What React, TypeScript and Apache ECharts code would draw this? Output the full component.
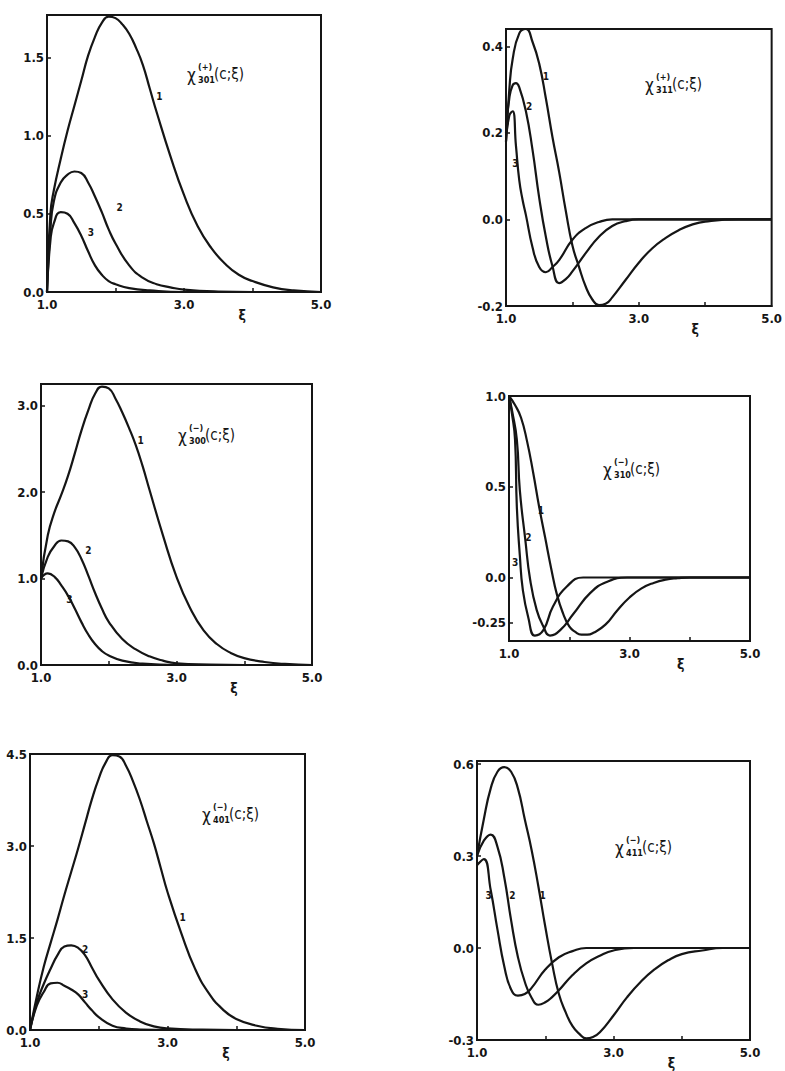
import React, { useEffect, useRef } from "react";
import * as echarts from "echarts";

// ---------- data ----------
const xTickValues = [2, 3, 4];
const xLabelValues = [1, 3, 3.85, 5];
const xLabelTexts = ["1.0", "3.0", "ξ", "5.0"];

// Panel 1: χ(+)301
const p1c1 = [[1.0,0],[1.05,0.5],[1.1,0.65],[1.2,0.85],[1.3,1.03],[1.4,1.19],[1.5,1.35],[1.6,1.51],[1.7,1.63],[1.8,1.72],[1.9,1.76],[2.0,1.75],[2.1,1.71],[2.2,1.65],[2.3,1.56],[2.4,1.45],[2.5,1.3],[2.6,1.15],[2.8,0.87],[3.0,0.62],[3.2,0.42],[3.4,0.28],[3.6,0.18],[3.8,0.11],[4.0,0.07],[4.3,0.03],[4.6,0.01],[5.0,0]];
const p1c2 = [[1.0,0],[1.05,0.4],[1.1,0.58],[1.2,0.7],[1.3,0.75],[1.4,0.77],[1.5,0.76],[1.6,0.7],[1.7,0.61],[1.8,0.51],[1.9,0.4],[2.0,0.31],[2.2,0.17],[2.4,0.09],[2.6,0.05],[2.8,0.03],[3.0,0.015],[3.5,0.003],[4.0,0],[5.0,0]];
const p1c3 = [[1.0,0],[1.05,0.33],[1.1,0.44],[1.2,0.51],[1.3,0.5],[1.4,0.44],[1.5,0.36],[1.6,0.26],[1.7,0.17],[1.8,0.11],[1.9,0.07],[2.0,0.05],[2.2,0.025],[2.5,0.01],[3.0,0],[5.0,0]];
const p1Labels = [[2.64,1.25],[2.06,0.54],[1.64,0.38]];
const p1YValues = [0, 0.5, 1.0, 1.5];
const p1YTexts = ["0.0", "0.5", "1.0", "1.5"];

// Panel 2: χ(+)311
const p2c1 = [[1.0,0.18],[1.05,0.3],[1.1,0.37],[1.2,0.43],[1.3,0.44],[1.4,0.41],[1.5,0.36],[1.6,0.28],[1.7,0.19],[1.8,0.11],[1.9,0.02],[2.0,-0.06],[2.1,-0.11],[2.2,-0.155],[2.3,-0.185],[2.4,-0.198],[2.5,-0.195],[2.6,-0.18],[2.8,-0.14],[3.0,-0.1],[3.2,-0.067],[3.4,-0.043],[3.6,-0.025],[3.8,-0.012],[4.0,-0.005],[4.5,0],[5.0,0]];
const p2c2 = [[1.0,0.2],[1.05,0.28],[1.1,0.31],[1.15,0.315],[1.2,0.305],[1.3,0.25],[1.4,0.16],[1.5,0.05],[1.6,-0.04],[1.7,-0.108],[1.8,-0.147],[1.9,-0.138],[2.0,-0.12],[2.2,-0.078],[2.4,-0.04],[2.6,-0.015],[2.8,-0.004],[3.0,0],[5.0,0]];
const p2c3 = [[1.0,0.18],[1.05,0.24],[1.1,0.25],[1.15,0.17],[1.2,0.09],[1.25,0.045],[1.3,0.01],[1.4,-0.065],[1.5,-0.11],[1.6,-0.122],[1.7,-0.11],[1.8,-0.094],[2.0,-0.047],[2.2,-0.02],[2.4,-0.006],[2.6,0],[5.0,0]];
const p2Labels = [[1.6,0.33],[1.35,0.26],[1.14,0.13]];
const p2YValues = [-0.2, 0, 0.2, 0.4];
const p2YTexts = ["-0.2", "0.0", "0.2", "0.4"];

// Panel 3: χ(-)300
const p3c1 = [[1.0,1.0],[1.1,1.5],[1.2,1.77],[1.3,1.97],[1.4,2.19],[1.5,2.45],[1.6,2.72],[1.7,2.95],[1.8,3.14],[1.9,3.22],[2.0,3.2],[2.1,3.08],[2.2,2.92],[2.3,2.74],[2.4,2.54],[2.5,2.3],[2.6,2.03],[2.8,1.5],[3.0,1.02],[3.2,0.66],[3.4,0.4],[3.6,0.24],[3.8,0.14],[4.0,0.08],[4.3,0.035],[4.6,0.012],[5.0,0]];
const p3c2 = [[1.0,1.0],[1.1,1.25],[1.2,1.38],[1.3,1.44],[1.4,1.43],[1.5,1.36],[1.6,1.22],[1.7,1.03],[1.8,0.83],[1.9,0.65],[2.0,0.5],[2.2,0.3],[2.4,0.18],[2.6,0.1],[2.8,0.05],[3.0,0.02],[3.5,0.005],[4.0,0],[5.0,0]];
const p3c3 = [[1.0,1.0],[1.1,1.06],[1.2,1.02],[1.3,0.92],[1.4,0.8],[1.5,0.65],[1.6,0.49],[1.7,0.35],[1.8,0.24],[1.9,0.16],[2.0,0.11],[2.2,0.05],[2.5,0.015],[3.0,0],[5.0,0]];
const p3Labels = [[2.47,2.6],[1.7,1.32],[1.42,0.76]];
const p3YValues = [0, 1, 2, 3];
const p3YTexts = ["0.0", "1.0", "2.0", "3.0"];

// Panel 4: χ(-)310
const p4c1 = [[1.0,1.0],[1.1,0.95],[1.2,0.88],[1.3,0.75],[1.4,0.58],[1.5,0.39],[1.6,0.22],[1.7,0.05],[1.8,-0.1],[1.9,-0.2],[2.0,-0.27],[2.1,-0.3],[2.2,-0.315],[2.3,-0.315],[2.4,-0.305],[2.6,-0.26],[2.8,-0.18],[3.0,-0.11],[3.2,-0.06],[3.4,-0.03],[3.6,-0.012],[3.8,-0.004],[4.0,0],[5.0,0]];
const p4c2 = [[1.0,1.0],[1.05,0.92],[1.13,0.76],[1.18,0.48],[1.27,0.21],[1.35,-0.01],[1.46,-0.18],[1.57,-0.27],[1.68,-0.32],[1.85,-0.29],[2.07,-0.2],[2.35,-0.085],[2.62,-0.025],[2.96,0],[5.0,0]];
const p4c3 = [[1.0,1.0],[1.05,0.9],[1.1,0.76],[1.13,0.39],[1.18,0.12],[1.23,-0.07],[1.32,-0.22],[1.43,-0.32],[1.57,-0.29],[1.73,-0.16],[1.96,-0.05],[2.23,0],[5.0,0]];
const p4Labels = [[1.53,0.37],[1.32,0.22],[1.1,0.08]];
const p4YValues = [-0.25, 0, 0.5, 1.0];
const p4YTexts = ["-0.25", "0.0", "0.5", "1.0"];

// Panel 5: χ(-)401
const p5c1 = [[1.0,0],[1.1,0.55],[1.2,1.03],[1.3,1.42],[1.4,1.8],[1.5,2.2],[1.6,2.58],[1.7,2.96],[1.8,3.36],[1.9,3.76],[2.0,4.1],[2.1,4.36],[2.2,4.48],[2.3,4.46],[2.4,4.3],[2.5,4.05],[2.6,3.75],[2.7,3.4],[2.8,3.05],[2.9,2.65],[3.0,2.25],[3.2,1.58],[3.4,1.0],[3.6,0.6],[3.8,0.34],[4.0,0.18],[4.3,0.07],[4.6,0.02],[5.0,0]];
const p5c2 = [[1.0,0],[1.1,0.45],[1.2,0.75],[1.3,1.0],[1.4,1.22],[1.5,1.36],[1.6,1.38],[1.7,1.34],[1.8,1.22],[1.9,1.02],[2.0,0.82],[2.2,0.5],[2.4,0.28],[2.6,0.14],[2.8,0.06],[3.0,0.025],[3.5,0.005],[4.0,0],[5.0,0]];
const p5c3 = [[1.0,0],[1.1,0.4],[1.2,0.62],[1.3,0.76],[1.4,0.77],[1.5,0.72],[1.6,0.66],[1.7,0.58],[1.8,0.45],[1.9,0.32],[2.0,0.21],[2.2,0.07],[2.4,0.025],[2.6,0.008],[3.0,0],[5.0,0]];
const p5Labels = [[3.22,1.83],[1.8,1.32],[1.8,0.58]];
const p5YValues = [0, 1.5, 3.0, 4.5];
const p5YTexts = ["0.0", "1.5", "3.0", "4.5"];

// Panel 6: χ(-)411
const p6c1 = [[1.0,0.3],[1.1,0.42],[1.2,0.52],[1.3,0.575],[1.4,0.59],[1.5,0.575],[1.6,0.52],[1.7,0.42],[1.8,0.32],[1.9,0.2],[2.0,0.07],[2.1,-0.05],[2.2,-0.15],[2.3,-0.21],[2.4,-0.255],[2.5,-0.28],[2.6,-0.295],[2.7,-0.29],[2.8,-0.275],[3.0,-0.22],[3.2,-0.16],[3.4,-0.11],[3.6,-0.07],[3.8,-0.04],[4.0,-0.02],[4.3,-0.008],[4.6,0],[5.0,0]];
const p6c2 = [[1.0,0.3],[1.1,0.35],[1.2,0.37],[1.3,0.33],[1.4,0.23],[1.5,0.09],[1.6,-0.03],[1.7,-0.11],[1.8,-0.162],[1.9,-0.185],[2.0,-0.177],[2.1,-0.16],[2.2,-0.138],[2.4,-0.088],[2.6,-0.05],[2.8,-0.025],[3.0,-0.008],[3.3,0],[5.0,0]];
const p6c3 = [[1.0,0.27],[1.1,0.29],[1.2,0.19],[1.3,0.06],[1.4,-0.06],[1.5,-0.135],[1.6,-0.155],[1.7,-0.15],[1.8,-0.13],[2.0,-0.07],[2.2,-0.03],[2.4,-0.01],[2.6,0],[5.0,0]];
const p6Labels = [[1.96,0.17],[1.52,0.17],[1.17,0.17]];
const p6YValues = [-0.3, 0, 0.3, 0.6];
const p6YTexts = ["-0.3", "0.0", "0.3", "0.6"];

// ---------- layout ----------
const panels = [
  { grid: { left: 47, top: 15, width: 274, height: 277 }, yMin: 0, yMax: 1.77, curves: [p1c1, p1c2, p1c3], labels: p1Labels, yv: p1YValues, yt: p1YTexts, title: { x: 187, y: 75, sign: "(+)", idx: "301" } },
  { grid: { left: 506, top: 29, width: 271, height: 277 }, yMin: -0.2, yMax: 0.44, curves: [p2c1, p2c2, p2c3], labels: p2Labels, yv: p2YValues, yt: p2YTexts, title: { x: 645, y: 85, sign: "(+)", idx: "311" } },
  { grid: { left: 41, top: 384, width: 271, height: 281 }, yMin: 0, yMax: 3.25, curves: [p3c1, p3c2, p3c3], labels: p3Labels, yv: p3YValues, yt: p3YTexts, title: { x: 178, y: 436, sign: "(−)", idx: "300" } },
  { grid: { left: 509, top: 396, width: 241, height: 245 }, yMin: -0.35, yMax: 1.0, curves: [p4c1, p4c2, p4c3], labels: p4Labels, yv: p4YValues, yt: p4YTexts, title: { x: 603, y: 470, sign: "(−)", idx: "310" } },
  { grid: { left: 30, top: 754, width: 275, height: 276 }, yMin: 0, yMax: 4.5, curves: [p5c1, p5c2, p5c3], labels: p5Labels, yv: p5YValues, yt: p5YTexts, title: { x: 202, y: 815, sign: "(−)", idx: "401" } },
  { grid: { left: 477, top: 761, width: 273, height: 279 }, yMin: -0.3, yMax: 0.61, curves: [p6c1, p6c2, p6c3], labels: p6Labels, yv: p6YValues, yt: p6YTexts, title: { x: 615, y: 848, sign: "(−)", idx: "411" } },
];

const INK = "#151515";
const FONT = '"DejaVu Sans Condensed", "DejaVu Sans", sans-serif';

function lookup(values: number[], texts: string[], v: number) {
  for (let i = 0; i < values.length; i++) if (Math.abs(values[i] - v) < 1e-6) return texts[i];
  return "";
}

function buildOption() {
  const grid: any[] = [];
  const xAxis: any[] = [];
  const yAxis: any[] = [];
  const series: any[] = [];
  const graphic: any[] = [];

  panels.forEach((p, i) => {
    grid.push({ ...p.grid, show: true, borderColor: INK, borderWidth: 2, backgroundColor: "transparent" });
    xAxis.push({
      type: "value", gridIndex: i, min: 1, max: 5,
      axisLine: { show: true, onZero: false, lineStyle: { color: INK, width: 2 } },
      axisTick: { show: true, inside: true, length: 4, customValues: xTickValues, lineStyle: { color: INK, width: 1.5 } },
      splitLine: { show: false },
      axisLabel: {
        show: true, customValues: xLabelValues, margin: 6,
        color: INK, fontFamily: FONT, fontSize: 13, fontWeight: "bold",
        formatter: (v: number) => {
          const t = lookup(xLabelValues, xLabelTexts, v);
          return t === "ξ" ? "{xi|ξ}" : t;
        },
        rich: { xi: { fontSize: 14, fontWeight: "bold", padding: [10, 0, 0, 0], color: INK, fontFamily: FONT } },
      },
    });
    yAxis.push({
      type: "value", gridIndex: i, min: p.yMin, max: p.yMax,
      axisLine: { show: true, onZero: false, lineStyle: { color: INK, width: 2 } },
      axisTick: { show: true, inside: true, length: 4, customValues: p.yv, lineStyle: { color: INK, width: 1.5 } },
      splitLine: { show: false },
      axisLabel: {
        show: true, customValues: p.yv, margin: 3,
        color: INK, fontFamily: FONT, fontSize: 13, fontWeight: "bold",
        formatter: (v: number) => lookup(p.yv, p.yt, v),
      },
    });
    p.curves.forEach((c, k) => {
      series.push({
        type: "line", xAxisIndex: i, yAxisIndex: i, data: c,
        showSymbol: false, smooth: 0.5,
        lineStyle: { color: INK, width: 2.2 },
        silent: true,
        markPoint: {
          symbol: "circle", symbolSize: 1, itemStyle: { color: "rgba(0,0,0,0)" },
          label: { show: true, formatter: "{b}", color: INK, fontFamily: FONT, fontSize: 10, fontWeight: "bold", position: "inside" },
          data: [{ name: String(k + 1), coord: p.labels[k] }],
        },
      });
    });
    const t = p.title;
    graphic.push({
      type: "group", x: t.x, y: t.y, silent: true,
      children: [
        { type: "text", x: 0, y: 0, style: { text: "χ", fontSize: 17, fontFamily: FONT, fill: INK, verticalAlign: "middle" } },
        { type: "text", x: 11, y: -8, style: { text: t.sign, fontSize: 9, fontWeight: "bold", fontFamily: FONT, fill: INK, verticalAlign: "middle" } },
        { type: "text", x: 11, y: 5, style: { text: t.idx, fontSize: 9, fontWeight: "bold", fontFamily: FONT, fill: INK, verticalAlign: "middle" } },
        { type: "text", x: 27, y: -1, style: { text: "(c;ξ)", fontSize: 15, fontFamily: FONT, fill: INK, verticalAlign: "middle" } },
      ],
    });
  });

  return { animation: false, backgroundColor: "#ffffff", grid, xAxis, yAxis, series, graphic };
}

export default function App() {
  const ref = useRef<HTMLDivElement>(null);
  useEffect(() => {
    if (!ref.current) return;
    const chart = echarts.init(ref.current, undefined, { renderer: "svg" });
    chart.setOption(buildOption() as any);
    return () => chart.dispose();
  }, []);
  return (
    <div style={{ position: "absolute", left: 0, top: 0, width: 785, height: 1071, background: "#fff" }}>
      <div ref={ref} style={{ width: 785, height: 1071 }} />
    </div>
  );
}
